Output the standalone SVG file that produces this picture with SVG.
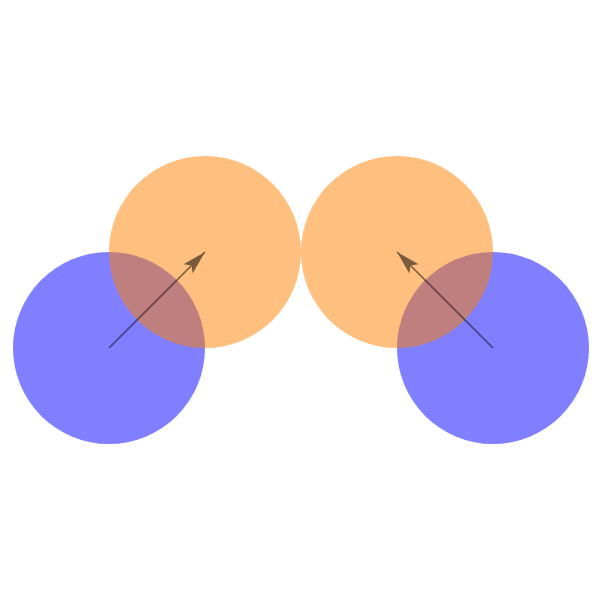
<svg xmlns="http://www.w3.org/2000/svg" width="600" height="600" viewBox="0 0 600 600">
<style>
.blue{fill:#0000ff;fill-opacity:0.5}
.orange{fill:#ff7f00;fill-opacity:0.5}
.vec{stroke:#000;stroke-width:1.5;fill:none;marker-end:url(#ah)}
</style>
<defs>
<marker id="ah" markerUnits="userSpaceOnUse" viewBox="-26 -8 28 16" refX="0" refY="0" markerWidth="28" markerHeight="16" orient="auto">
<path d="M0,0 L-24,-6.5 L-19,0 L-24,6.5 Z" fill="#000"/>
</marker>
</defs>
<rect width="600" height="600" fill="#fff"/>
<g id="left-blue"><circle class="blue" cx="109" cy="348" r="96"/></g>
<g id="right-blue"><circle class="blue" cx="493" cy="348" r="96"/></g>
<g id="left-orange"><circle class="orange" cx="205" cy="252" r="96"/></g>
<g id="right-orange"><circle class="orange" cx="397" cy="252" r="96"/></g>
<g id="connectors" opacity="0.52">
<path class="vec" d="M109,348 L205,252"/>
<path class="vec" d="M493,348 L397,252"/>
</g>
</svg>
